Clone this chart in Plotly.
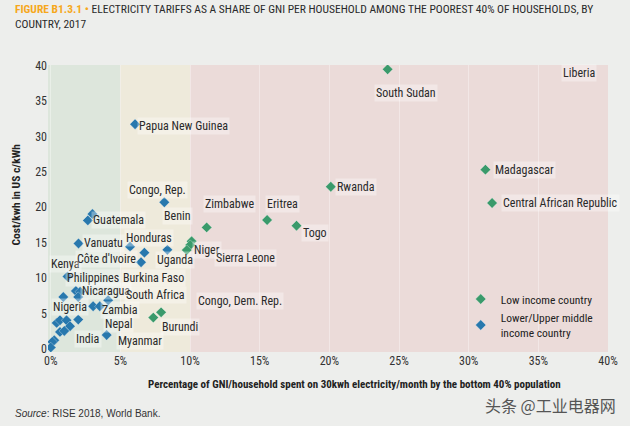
import plotly.graph_objects as go

# ---- data ----
low_x = [24.18, 31.2, 20.1, 31.68, 15.53, 17.64, 11.19, 10.11, 10.01, 9.76, 7.92, 7.36]
low_y = [39.44, 25.3, 22.9, 20.6, 18.2, 17.4, 17.16, 15.2, 14.67, 13.96, 5.19, 4.45]

mid_x = [6.05, 8.15, 2.99, 2.66, 1.99, 5.69, 6.72, 8.37, 6.48, 1.2, 1.8, 2.11, 0.9, 1.97,
         3.04, 3.52, 4.12, 0.42, 0.66, 1.13, 1.97, 1.38, 0.66, 0.97, 4.01, 0.25, 0.11, 0.0]
mid_y = [31.7, 20.7, 19.05, 18.15, 14.9, 14.45, 13.6, 14.0, 12.25, 10.25, 8.2, 8.1, 7.35, 7.35,
         6.04, 6.04, 6.9, 3.7, 4.07, 4.07, 4.17, 3.23, 2.43, 2.57, 2.0, 1.26, 1.02, 0.24]

label_names = ["South Sudan", "Liberia", "Papua New Guinea", "Madagascar", "Rwanda",
               "Central African Republic", "Congo, Rep.", "Benin", "Zimbabwe", "Eritrea",
               "Togo", "Guatemala", "Honduras", "Vanuatu", "Niger", "Sierra Leone", "Kenya",
               "Côte d'Ivoire", "Uganda", "Philippines", "Burkina Faso", "Nicaragua",
               "South Africa", "Congo, Dem. Rep.", "Nigeria", "Zambia", "Nepal", "Burundi",
               "India", "Myanmar"]
label_x = [25.5, 37.93, 9.5, 34.0, 21.9, 36.6, 7.63, 9.13, 12.8, 16.6, 18.95, 4.84, 7.06, 3.76,
           11.2, 14.0, 1.05, 4.0, 8.92, 3.04, 7.34, 3.98, 7.49, 13.6, 1.4, 4.98, 4.84, 9.28,
           2.69, 6.41]
label_y = [36.1, 38.9, 31.4, 25.3, 22.9, 20.6, 22.5, 18.8, 20.5, 20.5, 16.4, 18.25, 15.6, 14.9,
           14.0, 12.9, 12.07, 12.77, 12.5, 10.1, 10.1, 8.14, 7.7, 6.74, 6.0, 5.5, 3.5, 3.1,
           1.5, 1.1]

x_ticks = [0, 5, 10, 15, 20, 25, 30, 35, 40]
x_tick_labels = ["0%", "5%", "10%", "15%", "20%", "25%", "30%", "35%", "40%"]
y_ticks = [0, 5, 10, 15, 20, 25, 30, 35, 40]

FONT = "Roboto Condensed, DejaVu Sans Condensed, sans-serif"
GREEN = "#3a9a6b"
BLUE = "#2878ad"

fig = go.Figure()
fig.add_trace(go.Scatter(x=low_x, y=low_y, mode="markers", name="Low income country",
                         marker=dict(symbol="diamond", size=8, color=GREEN,
                                     line=dict(color="rgba(255,255,255,0.6)", width=0.5))))
fig.add_trace(go.Scatter(x=mid_x, y=mid_y, mode="markers",
                         name="Lower/Upper middle<br>income country",
                         marker=dict(symbol="diamond", size=8, color=BLUE,
                                     line=dict(color="rgba(255,255,255,0.6)", width=0.5))))

# background bands
bands = [(-5, 5, "#dde6dc"), (5, 10, "#eeeadb"), (10, 45, "#ebdbd9")]
for x0, x1, c in bands:
    fig.add_shape(type="rect", xref="x", yref="paper", x0=x0, x1=x1, y0=0, y1=1,
                  fillcolor=c, line=dict(width=0), layer="below")

for n, lx, ly in zip(label_names, label_x, label_y):
    fig.add_annotation(x=lx, y=ly, text=n, showarrow=False,
                       font=dict(family=FONT, size=12, color="#2a2a2a"),
                       bgcolor="rgba(255,255,255,0.35)", borderpad=1)

# title
fig.add_annotation(xref="paper", yref="paper", x=-0.063, y=1.226, xanchor="left", yanchor="top",
                   align="left", showarrow=False,
                   text="<span style='color:#f6a81c'><b>FIGURE B1.3.1 •</b></span> ELECTRICITY TARIFFS AS A SHARE OF GNI PER HOUSEHOLD AMONG THE POOREST 40% OF HOUSEHOLDS, BY<br>COUNTRY, 2017",
                   font=dict(family=FONT, size=11.5, color="#2a2a2a"))
# axis titles
fig.add_annotation(xref="paper", yref="paper", x=0.548, y=-0.112, xanchor="center", yanchor="middle",
                   showarrow=False,
                   text="<b>Percentage of GNI/household spent on 30kwh electricity/month by the bottom 40% population</b>",
                   font=dict(family=FONT, size=11, color="#222"))
fig.add_annotation(xref="paper", yref="paper", x=-0.058, y=0.547, xanchor="center", yanchor="middle",
                   showarrow=False, textangle=-90, text="<b>Cost/kwh in US c/kWh</b>",
                   font=dict(family=FONT, size=11.5, color="#222"))
# source
fig.add_annotation(xref="paper", yref="paper", x=-0.063, y=-0.216, xanchor="left", yanchor="middle",
                   showarrow=False, text="<i>Source</i>: RISE 2018, World Bank.",
                   font=dict(family="Liberation Sans, sans-serif", size=10, color="#333"))
# watermark text
fig.add_annotation(xref="paper", yref="paper", x=0.898, y=-0.185, xanchor="center", yanchor="middle",
                   showarrow=False, text="头条 @工业电器网",
                   font=dict(family="Noto Sans CJK SC", size=16, color="#555"))

fig.update_layout(
    width=630, height=426,
    margin=dict(l=48, r=22, t=65, b=74),
    paper_bgcolor="#edeeec", plot_bgcolor="#ebdbd9",
    font=dict(family=FONT, size=12, color="#333"),
    showlegend=True,
    legend=dict(x=0.737, y=0.235, xanchor="left", yanchor="top", bgcolor="rgba(0,0,0,0)",
                font=dict(family=FONT, size=11.5, color="#222"), itemwidth=30, tracegroupgap=0),
    xaxis=dict(range=[-0.2, 40], tickvals=x_ticks, ticktext=x_tick_labels, showgrid=True,
               gridcolor="rgba(255,255,255,0.35)", gridwidth=1, zeroline=False, showline=False,
               ticks="", tickfont=dict(size=12, color="#333"), automargin=False),
    yaxis=dict(range=[-0.4, 40.05], tickvals=y_ticks, showgrid=False, zeroline=False,
               showline=False, ticks="", tickfont=dict(size=12, color="#333"), automargin=False),
)

fig.write_html("out.html", config={"displayModeBar": False},
               post_script="document.body.style.margin='0';document.body.style.overflow='hidden';"
                           "document.body.style.background='#edeeec';")
